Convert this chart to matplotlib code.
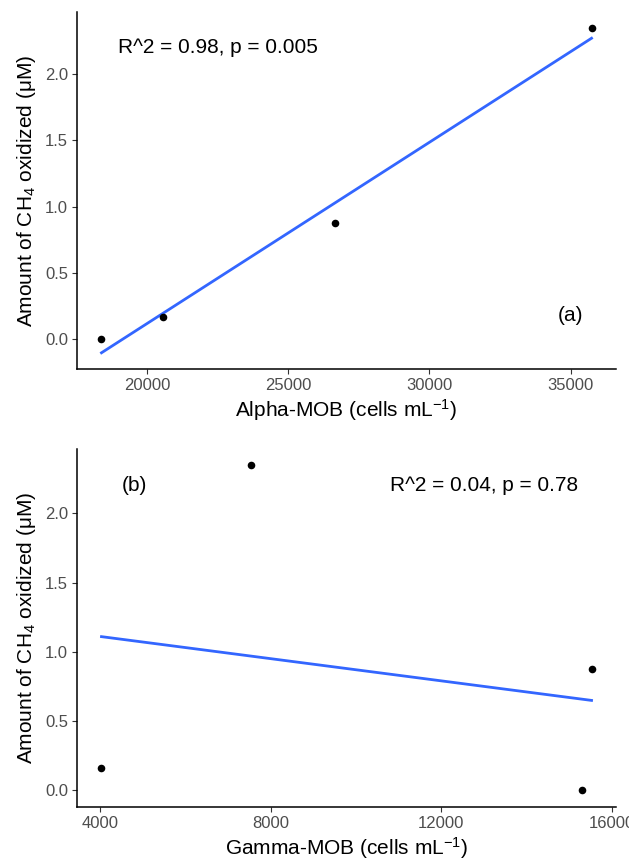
import numpy as np
from matplotlib import pyplot as plt

plt.rcParams['font.family'] = ['Liberation Sans', 'DejaVu Sans']
plt.rcParams['mathtext.fontset'] = 'custom'
plt.rcParams['mathtext.rm'] = 'Liberation Sans'
plt.rcParams['mathtext.it'] = 'Liberation Sans:italic'

# data
ch4_oxidized = [0.0, 0.165, 0.877, 2.348]
alpha_mob = [18383, 20566, 26652, 35743]
gamma_mob = [15312, 4031, 15531, 7533]

alpha_ticks = [20000, 25000, 30000, 35000]
gamma_ticks = [4000, 8000, 12000, 16000]
y_ticks = [0.0, 0.5, 1.0, 1.5, 2.0]

ylabel = 'Amount of CH$_4$ oxidized (μM)'


def panel(ax, x, y, xticks, xlabel):
    x = np.array(x, dtype=float)
    y = np.array(y, dtype=float)
    k, b = np.polyfit(x, y, 1)
    xs = np.linspace(x.min(), x.max(), 80)
    ys = k * xs + b
    ax.plot(xs, ys, color='#3366FF', linewidth=2.0, zorder=2)
    ax.scatter(x, y, s=30, color='black', zorder=3, linewidths=0)

    # ggplot style 5% expansion
    lo, hi = min(y.min(), ys.min()), max(y.max(), ys.max())
    pad = 0.05 * (hi - lo)
    ax.set_ylim(lo - pad, hi + pad)
    pad = 0.05 * (x.max() - x.min())
    ax.set_xlim(x.min() - pad, x.max() + pad)

    ax.set_xticks(xticks)
    ax.set_xticklabels([str(t) for t in xticks])
    ax.set_yticks(y_ticks)
    ax.set_yticklabels(['%.1f' % t for t in y_ticks])
    ax.tick_params(colors='#333333', labelcolor='#4D4D4D', labelsize=12,
                   length=3.5, width=0.8, pad=3)
    ax.spines['top'].set_visible(False)
    ax.spines['right'].set_visible(False)
    ax.spines['left'].set_linewidth(1.1)
    ax.spines['bottom'].set_linewidth(1.1)
    ax.set_xlabel(xlabel, fontsize=15, labelpad=3)
    ax.set_ylabel(ylabel, fontsize=15, labelpad=5)


fig = plt.figure(figsize=(6.29, 8.65), dpi=100)
ax1 = fig.add_axes([0.1224, 0.5734, 0.857, 0.4127])
ax2 = fig.add_axes([0.1224, 0.0674, 0.857, 0.4135])

panel(ax1, alpha_mob, ch4_oxidized, alpha_ticks, 'Alpha-MOB (cells mL$^{-1}$)')
panel(ax2, gamma_mob, ch4_oxidized, gamma_ticks, 'Gamma-MOB (cells mL$^{-1}$)')

ax1.text(22500, 2.2, 'R^2 = 0.98, p = 0.005', fontsize=15, ha='center', va='center')
ax1.text(35000, 0.18, '(a)', fontsize=15, ha='center', va='center')
ax2.text(4800, 2.2, '(b)', fontsize=15, ha='center', va='center')
ax2.text(13000, 2.2, 'R^2 = 0.04, p = 0.78', fontsize=15, ha='center', va='center')

plt.savefig('out.png', dpi=100)
